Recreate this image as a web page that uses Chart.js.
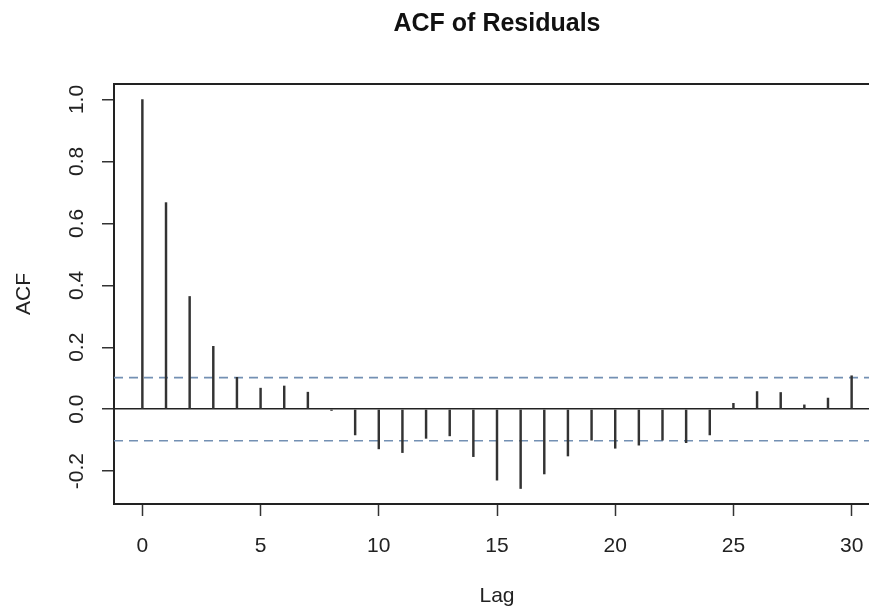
<!DOCTYPE html>
<html>
<head>
<meta charset="utf-8">
<script src="https://cdn.jsdelivr.net/npm/chart.js@4/dist/chart.umd.min.js"></script>
<style>
  html, body { margin: 0; padding: 0; background: #fff; overflow: hidden; }
  #wrap { width: 900px; height: 609px; }
</style>
</head>
<body>
<div id="wrap"><canvas id="c" width="900" height="609"></canvas></div>
<script>
// ---- data ----
const chartTitle = "ACF of Residuals";
const xAxisLabel = "Lag";
const yAxisLabel = "ACF";
const lags = [0,1,2,3,4,5,6,7,8,9,10,11,12,13,14,15,16,17,18,19,20,21,22,23,24,25,26,27,28,29,30];
const acfValues = [1.0,0.667,0.364,0.203,0.103,0.068,0.075,0.055,-0.004,-0.083,-0.128,-0.140,-0.094,-0.086,-0.153,-0.229,-0.256,-0.209,-0.151,-0.100,-0.126,-0.116,-0.100,-0.108,-0.083,0.019,0.057,0.054,0.014,0.036,0.108];
const ciBound = 0.102;
const xRange = [-1.2, 31.2];
const yRange = [-0.306, 1.05];
const xTickStep = 5;
const yTickStep = 0.2;

const FONT = "'Liberation Sans', Arial, sans-serif";

const barData = lags.map((l, i) => ({ x: l, y: acfValues[i] }));
const upperCI = xRange.map(x => ({ x: x, y: ciBound }));
const lowerCI = xRange.map(x => ({ x: x, y: -ciBound }));

const framePlugin = {
  id: 'frameAndTitle',
  afterDraw(chart) {
    const { ctx, chartArea } = chart;
    ctx.save();
    ctx.strokeStyle = '#222';
    ctx.lineWidth = 2;
    ctx.beginPath();
    ctx.moveTo(chartArea.left - 1, chartArea.top);
    ctx.lineTo(chartArea.right, chartArea.top);
    ctx.stroke();
    ctx.fillStyle = '#111';
    ctx.font = "bold 25px " + FONT;
    ctx.textAlign = 'center';
    ctx.textBaseline = 'middle';
    ctx.fillText(chartTitle, (chartArea.left + chartArea.right) / 2, 24);
    ctx.restore();
  }
};

new Chart(document.getElementById('c'), {
  type: 'bar',
  data: {
    datasets: [
      {
        type: 'bar',
        data: barData,
        backgroundColor: '#333',
        borderWidth: 0,
        barThickness: 1.8,
        order: 1
      },
      {
        type: 'line',
        data: upperCI,
        borderColor: '#7390b3',
        borderWidth: 1.6,
        borderDash: [9, 6],
        pointRadius: 0,
        fill: false,
        order: 2
      },
      {
        type: 'line',
        data: lowerCI,
        borderColor: '#7390b3',
        borderWidth: 1.6,
        borderDash: [9, 6],
        pointRadius: 0,
        fill: false,
        order: 2
      }
    ]
  },
  options: {
    responsive: false,
    animation: false,
    events: [],
    layout: { padding: { top: 84, right: 20, left: 0, bottom: 0 } },
    plugins: {
      legend: { display: false },
      tooltip: { enabled: false },
      title: { display: false }
    },
    scales: {
      x: {
        type: 'linear',
        min: xRange[0],
        max: xRange[1],
        offset: false,
        ticks: {
          stepSize: xTickStep,
          includeBounds: false,
          autoSkip: false,
          maxRotation: 0,
          color: '#222',
          padding: 18,
          font: { family: FONT, size: 21 },
          callback: v => String(v)
        },
        grid: { display: true, offset: false, drawOnChartArea: false, drawTicks: true, tickLength: 12, tickWidth: 1.5, tickColor: '#333' },
        border: { display: true, color: '#222', width: 2 },
        title: { display: true, text: xAxisLabel, color: '#222', font: { family: FONT, size: 21 }, padding: { top: 0, bottom: 0 } },
        afterFit: s => { s.height = 105; }
      },
      y: {
        type: 'linear',
        min: yRange[0],
        max: yRange[1],
        ticks: {
          stepSize: yTickStep,
          includeBounds: false,
          minRotation: 90,
          maxRotation: 90,
          crossAlign: 'center',
          color: '#222',
          padding: 7,
          font: { family: FONT, size: 21 },
          callback: v => v.toFixed(1)
        },
        grid: {
          display: true,
          offset: false,
          drawOnChartArea: true,
          drawTicks: true,
          tickLength: 12,
          tickWidth: 1.5,
          tickColor: '#333',
          lineWidth: 1.5,
          color: c => (c.tick && Math.abs(c.tick.value) < 1e-9) ? '#222' : 'rgba(0,0,0,0)'
        },
        border: { display: true, color: '#222', width: 2 },
        title: { display: true, text: yAxisLabel, color: '#222', font: { family: FONT, size: 21 }, padding: { top: 12, bottom: 0 } },
        afterFit: s => { s.width = 114; }
      }
    }
  },
  plugins: [framePlugin]
});
</script>
</body>
</html>
